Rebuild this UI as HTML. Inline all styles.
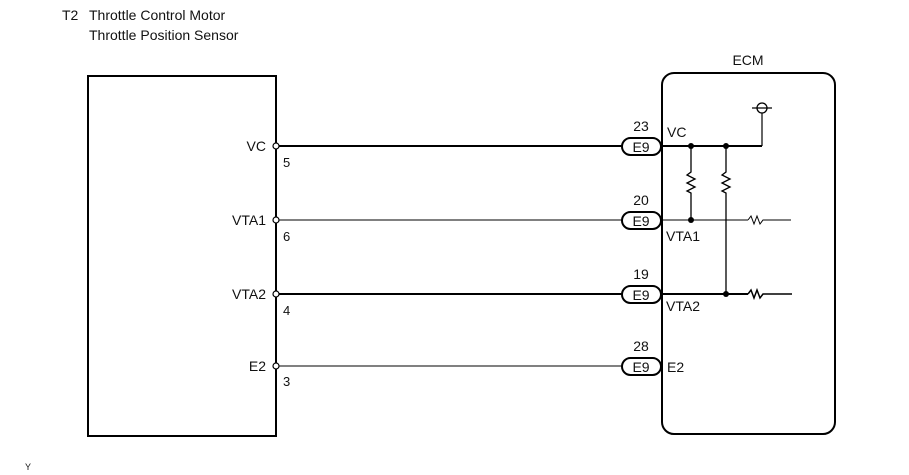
<!DOCTYPE html><html><head><style>body{margin:0;background:#fff}svg{display:block}text{font-family:"Liberation Sans",sans-serif;fill:#111}</style></head><body>
<svg width="909" height="475" viewBox="0 0 909 475">
<text x="62" y="20" font-size="14">T2</text>
<text x="89" y="20" font-size="14">Throttle Control Motor</text>
<text x="89" y="40" font-size="14">Throttle Position Sensor</text>
<rect x="88" y="76" width="188" height="360" fill="none" stroke="#000" stroke-width="2"/>
<rect x="662" y="73" width="173" height="361" rx="12" fill="none" stroke="#000" stroke-width="2"/>
<text x="748" y="65" font-size="14" text-anchor="middle">ECM</text>
<g stroke="#000" fill="none">
<line x1="279" y1="146" x2="622" y2="146" stroke-width="2"/>
<line x1="279" y1="220" x2="622" y2="220" stroke-width="1"/>
<line x1="279" y1="294" x2="622" y2="294" stroke-width="2"/>
<line x1="279" y1="366" x2="622" y2="366" stroke-width="1"/>
<line x1="662" y1="146" x2="762" y2="146" stroke-width="2"/>
<line x1="762" y1="146" x2="762" y2="113" stroke-width="1.2"/>
<circle cx="762" cy="108" r="5" stroke-width="1.3"/>
<line x1="752" y1="108" x2="772" y2="108" stroke-width="1.2"/>
<line x1="662" y1="220" x2="748" y2="220" stroke-width="1"/>
<polyline points="748,220 751,216 754,224 757,216 760,224 763,220 791,220" stroke-width="1"/>
<line x1="662" y1="294" x2="748" y2="294" stroke-width="2"/>
<polyline points="748,294 751,290 754,298 757,290 760,298 763,294 792,294" stroke-width="1.5"/>
<polyline points="691,146 691,172 687,175 695,179 687,183 695,187 687,191 691,193 691,220" stroke-width="1.3"/>
<polyline points="726,146 726,172 722,175 730,179 722,183 730,187 722,191 726,193 726,294" stroke-width="1.3"/>
</g>
<g fill="#000"><circle cx="691" cy="146" r="3"/><circle cx="726" cy="146" r="3"/><circle cx="691" cy="220" r="3"/><circle cx="726" cy="294" r="3"/></g>
<g fill="#fff" stroke="#000" stroke-width="1.2">
<circle cx="276" cy="146" r="3"/><circle cx="276" cy="220" r="3"/><circle cx="276" cy="294" r="3"/><circle cx="276" cy="366" r="3"/>
</g>
<g font-size="14" text-anchor="end"><text x="266" y="151">VC</text><text x="266" y="225">VTA1</text><text x="266" y="299">VTA2</text><text x="266" y="371">E2</text></g>
<g font-size="13"><text x="283" y="167">5</text><text x="283" y="241">6</text><text x="283" y="315">4</text><text x="283" y="386">3</text></g>
<g fill="#fff" stroke="#000" stroke-width="2">
<rect x="622" y="138" width="39" height="17" rx="8.5"/><rect x="622" y="212" width="39" height="17" rx="8.5"/><rect x="622" y="286" width="39" height="17" rx="8.5"/><rect x="622" y="358" width="39" height="17" rx="8.5"/>
</g>
<g font-size="14" text-anchor="middle"><text x="641" y="152">E9</text><text x="641" y="226">E9</text><text x="641" y="300">E9</text><text x="641" y="372">E9</text>
<text x="641" y="131">23</text><text x="641" y="205">20</text><text x="641" y="279">19</text><text x="641" y="351">28</text></g>
<g font-size="14"><text x="667" y="137">VC</text><text x="666" y="241">VTA1</text><text x="666" y="311">VTA2</text><text x="667" y="372">E2</text></g>
<text x="25" y="470" font-size="9">Y</text>
</svg></body></html>
